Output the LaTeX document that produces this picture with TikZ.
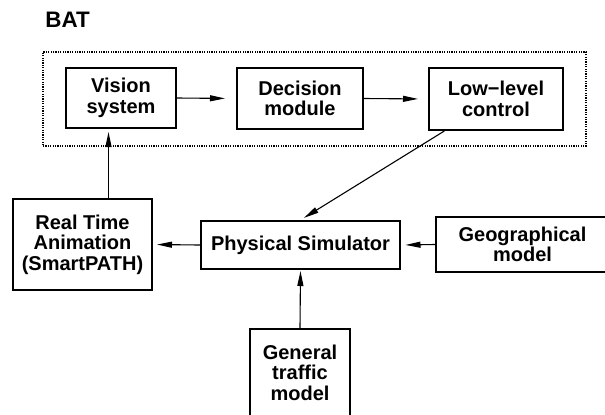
\documentclass[tikz,border=0pt]{standalone}
\usepackage{fontspec}
\setmainfont{Liberation Sans}
\usetikzlibrary{arrows.meta,fit,calc}

\begin{document}
\begin{tikzpicture}[
            x=0.5pt,
            y=-0.5pt,
            every node/.style={
                    font=\bfseries\fontsize{10}{10.3}\selectfont
                },
            block/.style={
                    rectangle,
                    draw=black,
                    line width=1pt,
                    align=center,
                    inner sep=0pt
                },
            heading/.style={
                    anchor=west,
                    inner sep=0pt,
                    font=\bfseries\fontsize{11.2}{12}\selectfont
                },
            batframe/.style={
                    rectangle,
                    draw=black,
                    line width=0.75pt,
                    dash pattern=on 0.6pt off 0.6pt,
                    inner xsep=11pt,
                    inner ysep=7.5pt
                },
            link/.style={
                    draw=black,
                    line width=0.55pt,
                    -{Triangle[length=7.5pt,width=3pt]}
                }
        ]

        \useasboundingbox (0,0) rectangle (605,414);

        \node[heading] (bat) at (45,19.5) {BAT};

        \node[block, minimum width=55pt, minimum height=30pt] (vision) at (121,98) {Vision\\system};
        \node[block, minimum width=63pt, minimum height=30.5pt] (decision) at (300,98.5) {Decision\\module};
        \node[block, minimum width=67pt, minimum height=31pt] (lowlevel) at (496,99) {Low−level\\control};
        \node[batframe, fit=(vision)(decision)(lowlevel)] (agent) {};

        \node[block, minimum width=69.5pt, minimum height=45.5pt] (animation) at (82.5,244.5) {Real Time\\Animation\\(SmartPATH)};
        \node[block, minimum width=99.5pt, minimum height=24pt] (simulator) at (300.5,245) {Physical Simulator};
        \node[block, minimum width=86.5pt, minimum height=27.5pt] (geo) at (522.5,244.5) {Geographical\\model};
        \node[block, minimum width=50pt, minimum height=43.5pt] (traffic) at (300,372.5) {General\\traffic\\model};

        \draw[link, shorten >=5.5pt] (vision.east) -- (decision.west);
        \draw[link, shorten >=5pt] (decision.east) -- (lowlevel.west);
        \draw[link, shorten >=2pt] ($(lowlevel.south west)!0.12!(lowlevel.south east)$) -- (simulator.north);
        \draw[link, shorten >=2pt] (simulator.west) -- (animation.east);
        \draw[link, shorten >=2.25pt] (geo.west) -- (simulator.east);
        \draw[link, shorten >=0.5pt] (traffic.north) -- (simulator.south);
        \draw[link, shorten >=1.5pt] ($(animation.north)+(26,0)$) -- ($(vision.south)+(-12.5,0)$);

    \end{tikzpicture}
\end{document}
